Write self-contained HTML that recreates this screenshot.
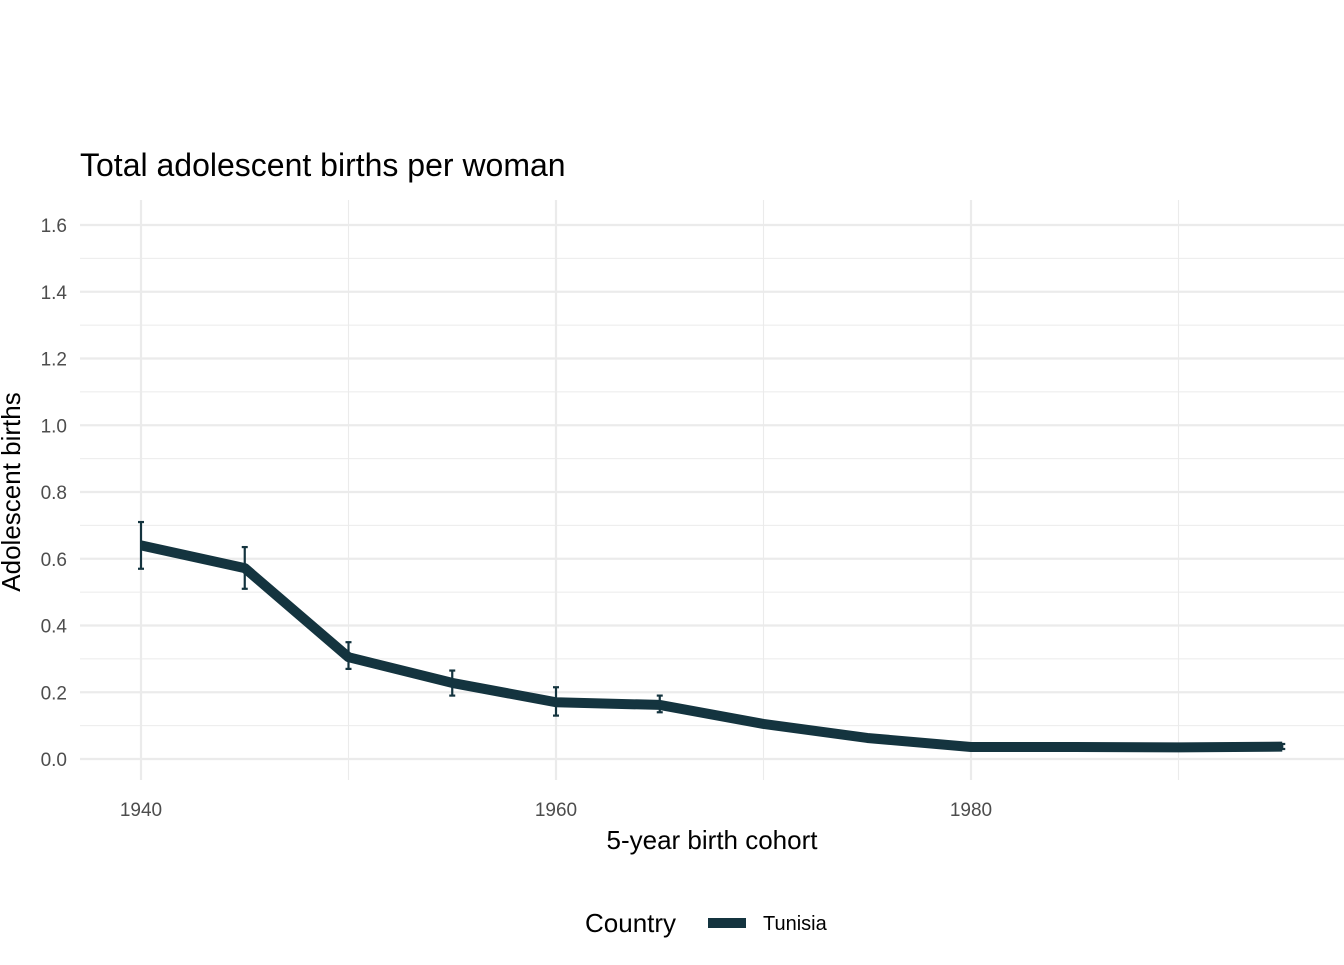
<!DOCTYPE html>
<html><head><meta charset="utf-8"><style>
body{margin:0;background:#fff;font-family:"Liberation Sans",Arial,sans-serif}
</style></head><body>
<svg width="1344" height="960" xmlns="http://www.w3.org/2000/svg">
<rect width="1344" height="960" fill="#fff"/>
<text x="80" y="176" font-size="32" fill="#000">Total adolescent births per woman</text>
<g id="grid"></g>
<g id="ticks"></g>
<g id="marks"></g>
<text x="712" y="849" font-size="26" text-anchor="middle">5-year birth cohort</text>
<text transform="translate(20,492) rotate(-90)" font-size="26" text-anchor="middle">Adolescent births</text>
<g>
<text x="585" y="932" font-size="26">Country</text>
<line x1="708" y1="923" x2="746" y2="923" stroke="#14343f" stroke-width="10"/>
<text x="763" y="930" font-size="20">Tunisia</text>
</g>
</svg>
<script>
const years=[1940,1945,1950,1955,1960,1965,1970,1975,1980,1985,1990,1995];
const values=[0.64,0.572,0.305,0.228,0.17,0.162,0.105,0.063,0.036,0.036,0.035,0.037];
const lower=[0.57,0.51,0.27,0.19,0.13,0.14,0.095,0.058,0.032,0.032,0.031,0.03];
const upper=[0.71,0.635,0.35,0.265,0.215,0.19,0.115,0.068,0.04,0.04,0.039,0.045];
const yTicks=[0,0.2,0.4,0.6,0.8,1.0,1.2,1.4,1.6];
const xTicks=[1940,1960,1980];
const NS="http://www.w3.org/2000/svg";
const X=v=>141+(v-1940)*20.75;
const Y=v=>759-v*333.75;
function mk(p,t,a){const e=document.createElementNS(NS,t);for(const k in a)e.setAttribute(k,a[k]);p.appendChild(e);return e;}
const grid=document.getElementById('grid'),ticks=document.getElementById('ticks'),marks=document.getElementById('marks');
for(let v=0;v<=1.65;v+=0.1){const major=Math.round(v*10)%2===0;
 const l=mk(grid,'line',{x1:80,x2:1344,y1:Y(v),y2:Y(v),stroke:'#ebebeb','stroke-width':major?2.2:1.1});
 
 }
for(let v=1940;v<=1990;v+=10){const major=v%20===0;
 const l=mk(grid,'line',{x1:X(v),x2:X(v),y1:200,y2:780,stroke:'#ebebeb','stroke-width':major?2.2:1.1});
 
 }
yTicks.forEach(v=>{const t=mk(ticks,'text',{x:67,y:Y(v)+7,'font-size':19,fill:'#4d4d4d','text-anchor':'end'});t.textContent=v.toFixed(1);
 
 });
xTicks.forEach(v=>{const t=mk(ticks,'text',{x:X(v),y:816,'font-size':19,fill:'#4d4d4d','text-anchor':'middle'});t.textContent=v;
 
 });
const pl=mk(marks,'polyline',{points:years.map((y,i)=>X(y)+','+Y(values[i])).join(' '),fill:'none',stroke:'#14343f','stroke-width':10,'stroke-linejoin':'round'});


years.forEach((y,i)=>{const g=mk(marks,'g',{stroke:'#14343f','stroke-width':2.2});
 
 
 mk(g,'line',{x1:X(y),x2:X(y),y1:Y(lower[i]),y2:Y(upper[i])});
 mk(g,'line',{x1:X(y)-3,x2:X(y)+3,y1:Y(lower[i]),y2:Y(lower[i])});
 mk(g,'line',{x1:X(y)-3,x2:X(y)+3,y1:Y(upper[i]),y2:Y(upper[i])});});
</script>
</body></html>
